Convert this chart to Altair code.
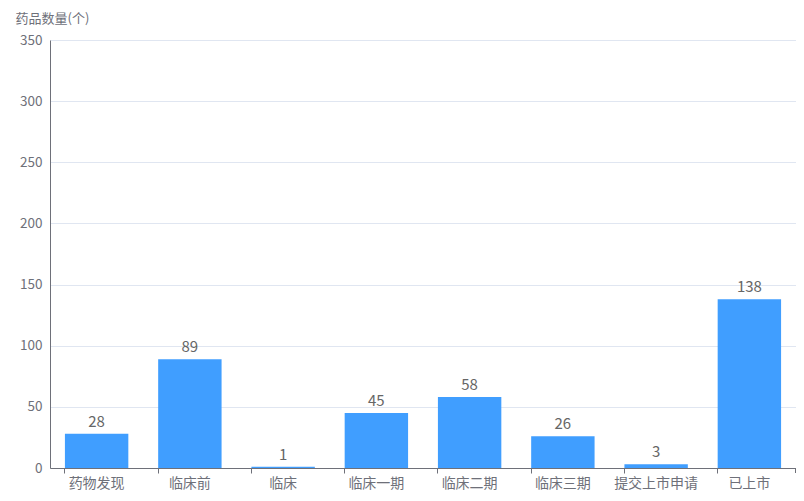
import altair as alt
import pandas as pd

categories = ["药物发现", "临床前", "临床", "临床一期", "临床二期", "临床三期", "提交上市申请", "已上市"]
counts = [28, 89, 1, 45, 58, 26, 3, 138]

df = pd.DataFrame({"stage": categories, "count": counts})

FONT = "Noto Sans CJK SC"
GRAY = "#6e7079"
W = 746
H = 428

x = alt.X("stage:N", sort=categories,
          scale=alt.Scale(paddingInner=0.32, paddingOuter=0.16),
          axis=alt.Axis(title=None, labelAngle=0, labelColor=GRAY, labelFontSize=14,
                        labelFont=FONT, domainColor=GRAY, tickColor=GRAY, tickSize=5,
                        bandPosition=0, labelPadding=3, grid=False))
y = alt.Y("count:Q", scale=alt.Scale(domain=[0, 350], nice=False),
          axis=alt.Axis(title="药品数量(个)", titleAngle=0, titleAlign="left",
                        titleBaseline="alphabetic", titleX=-35, titleY=-18,
                        titleFont=FONT, titleFontSize=13, titleFontWeight="normal",
                        titleColor=GRAY, values=[0, 50, 100, 150, 200, 250, 300, 350],
                        labelColor=GRAY, labelFontSize=13.5, labelFont=FONT,
                        domainColor=GRAY, ticks=False, labelPadding=8,
                        gridColor="#e0e6f1"))

bars = alt.Chart(df).mark_bar(color="#409EFF").encode(x=x, y=y)
labels = alt.Chart(df).mark_text(dy=-4, baseline="bottom", fontSize=15, font=FONT,
                                 color="#666666").encode(
    x=alt.X("stage:N", sort=categories), y="count:Q", text="count:Q")
endtick = alt.Chart(df).mark_rule(color=GRAY).encode(
    x=alt.value(W), y=alt.value(H), y2=alt.value(H + 5))

chart = alt.layer(bars, labels, endtick).properties(
    width=W, height=H,
    autosize=alt.AutoSizeParams(type="none"),
    padding={"left": 42, "top": 32, "right": 0, "bottom": 25},
).configure_view(stroke=None)

chart.save("out.html", embed_options={"renderer": "svg", "actions": False})
